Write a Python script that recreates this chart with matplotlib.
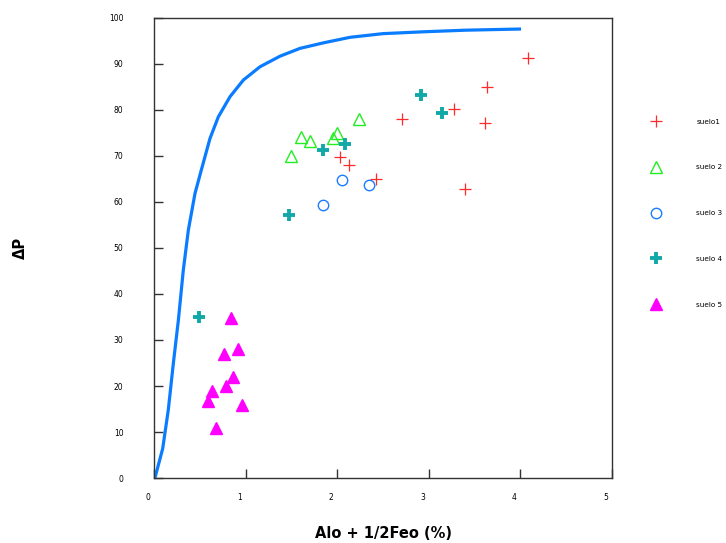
import matplotlib.pyplot as plt
import matplotlib.transforms as mtransforms

# curva teórica
curva_x = [0.01, 0.095, 0.156, 0.211, 0.266, 0.32, 0.375, 0.448, 0.52, 0.611, 0.702, 0.83,
           0.975, 1.157, 1.376, 1.594, 1.85, 2.14, 2.5, 2.94, 3.4, 3.99]
curva_y = [0.0, 6.4, 14.8, 24.9, 34.3, 45.2, 53.9, 61.9, 67.2, 73.8, 78.5, 82.9,
           86.5, 89.4, 91.7, 93.4, 94.6, 95.8, 96.6, 97.0, 97.35, 97.6]

suelo1_x = [4.08, 3.64, 3.28, 2.71, 3.61, 2.03, 2.13, 2.42, 3.39]
suelo1_y = [91.4, 85.1, 80.3, 78.0, 77.1, 69.8, 68.1, 64.9, 62.8]

suelo2_x = [1.50, 1.60, 1.70, 1.95, 2.00, 2.24]
suelo2_y = [70.1, 74.1, 73.3, 74.0, 75.1, 78.0]

suelo3_x = [2.05, 2.35, 1.85]
suelo3_y = [64.7, 63.8, 59.4]

suelo4_x = [2.91, 3.14, 2.08, 1.85, 1.47, 0.495]
suelo4_y = [83.3, 79.3, 72.5, 71.2, 57.2, 34.9]

suelo5_x = [0.837, 0.917, 0.768, 0.857, 0.782, 0.63, 0.593, 0.966, 0.675]
suelo5_y = [34.8, 28.0, 26.9, 21.9, 19.9, 18.9, 16.8, 15.9, 10.8]

fig = plt.figure(figsize=(7.26, 5.43), dpi=100)
ax = fig.add_axes([154/726, 1 - 478/543, (612-154)/726, (478-18)/543])

ax.plot(curva_x, curva_y, color="#0a7cff", linewidth=2.3, zorder=2,
        solid_joinstyle="round")

ax.plot(suelo1_x, suelo1_y, linestyle="none", marker="+", markersize=9,
        markeredgewidth=0.9, color="#ff2a2a", label="suelo1")
ax.plot(suelo2_x, suelo2_y, linestyle="none", marker="^", markersize=8,
        markeredgewidth=1.0, markerfacecolor="none", markeredgecolor="#22ee22", label="suelo 2")
ax.plot(suelo3_x, suelo3_y, linestyle="none", marker="o", markersize=7.5,
        markeredgewidth=1.0, markerfacecolor="none", markeredgecolor="#1a7cff", label="suelo 3")
ax.plot(suelo4_x, suelo4_y, linestyle="none", marker="+", markersize=8,
        markeredgewidth=2.8, color="#12a8a8", label="suelo 4")
ax.plot(suelo5_x, suelo5_y, linestyle="none", marker="^", markersize=9,
        color="#ff00ff", label="suelo 5")

ax.set_xlim(0, 5)
ax.set_ylim(0, 100)
ax.set_xticks([0, 1, 2, 3, 4, 5])
ax.set_yticks(range(0, 101, 10))
ax.tick_params(direction="in", length=6.5, width=1, labelsize=5.5, color="#333333")
ax.tick_params(axis="y", pad=22)
ax.tick_params(axis="x", pad=11)
for s in ax.spines.values():
    s.set_linewidth(1)
    s.set_color("#333333")

off = mtransforms.ScaledTranslation(-6/100, 0, fig.dpi_scale_trans)
for lab in ax.get_xticklabels():
    lab.set_transform(lab.get_transform() + off)

ax.set_xlabel("Alo + 1/2Feo (%)", fontsize=10.5, fontweight="bold", labelpad=17)
ax.set_ylabel("ΔP", fontsize=10.5, fontweight="bold", labelpad=58)

ax.legend(loc="upper left", bbox_to_anchor=(642/726, 1 - 112/543),
          bbox_transform=fig.transFigure, frameon=False, fontsize=5.2,
          labelspacing=5.5, handletextpad=4.5, handlelength=2.1)

plt.savefig("out.png", dpi=100)
